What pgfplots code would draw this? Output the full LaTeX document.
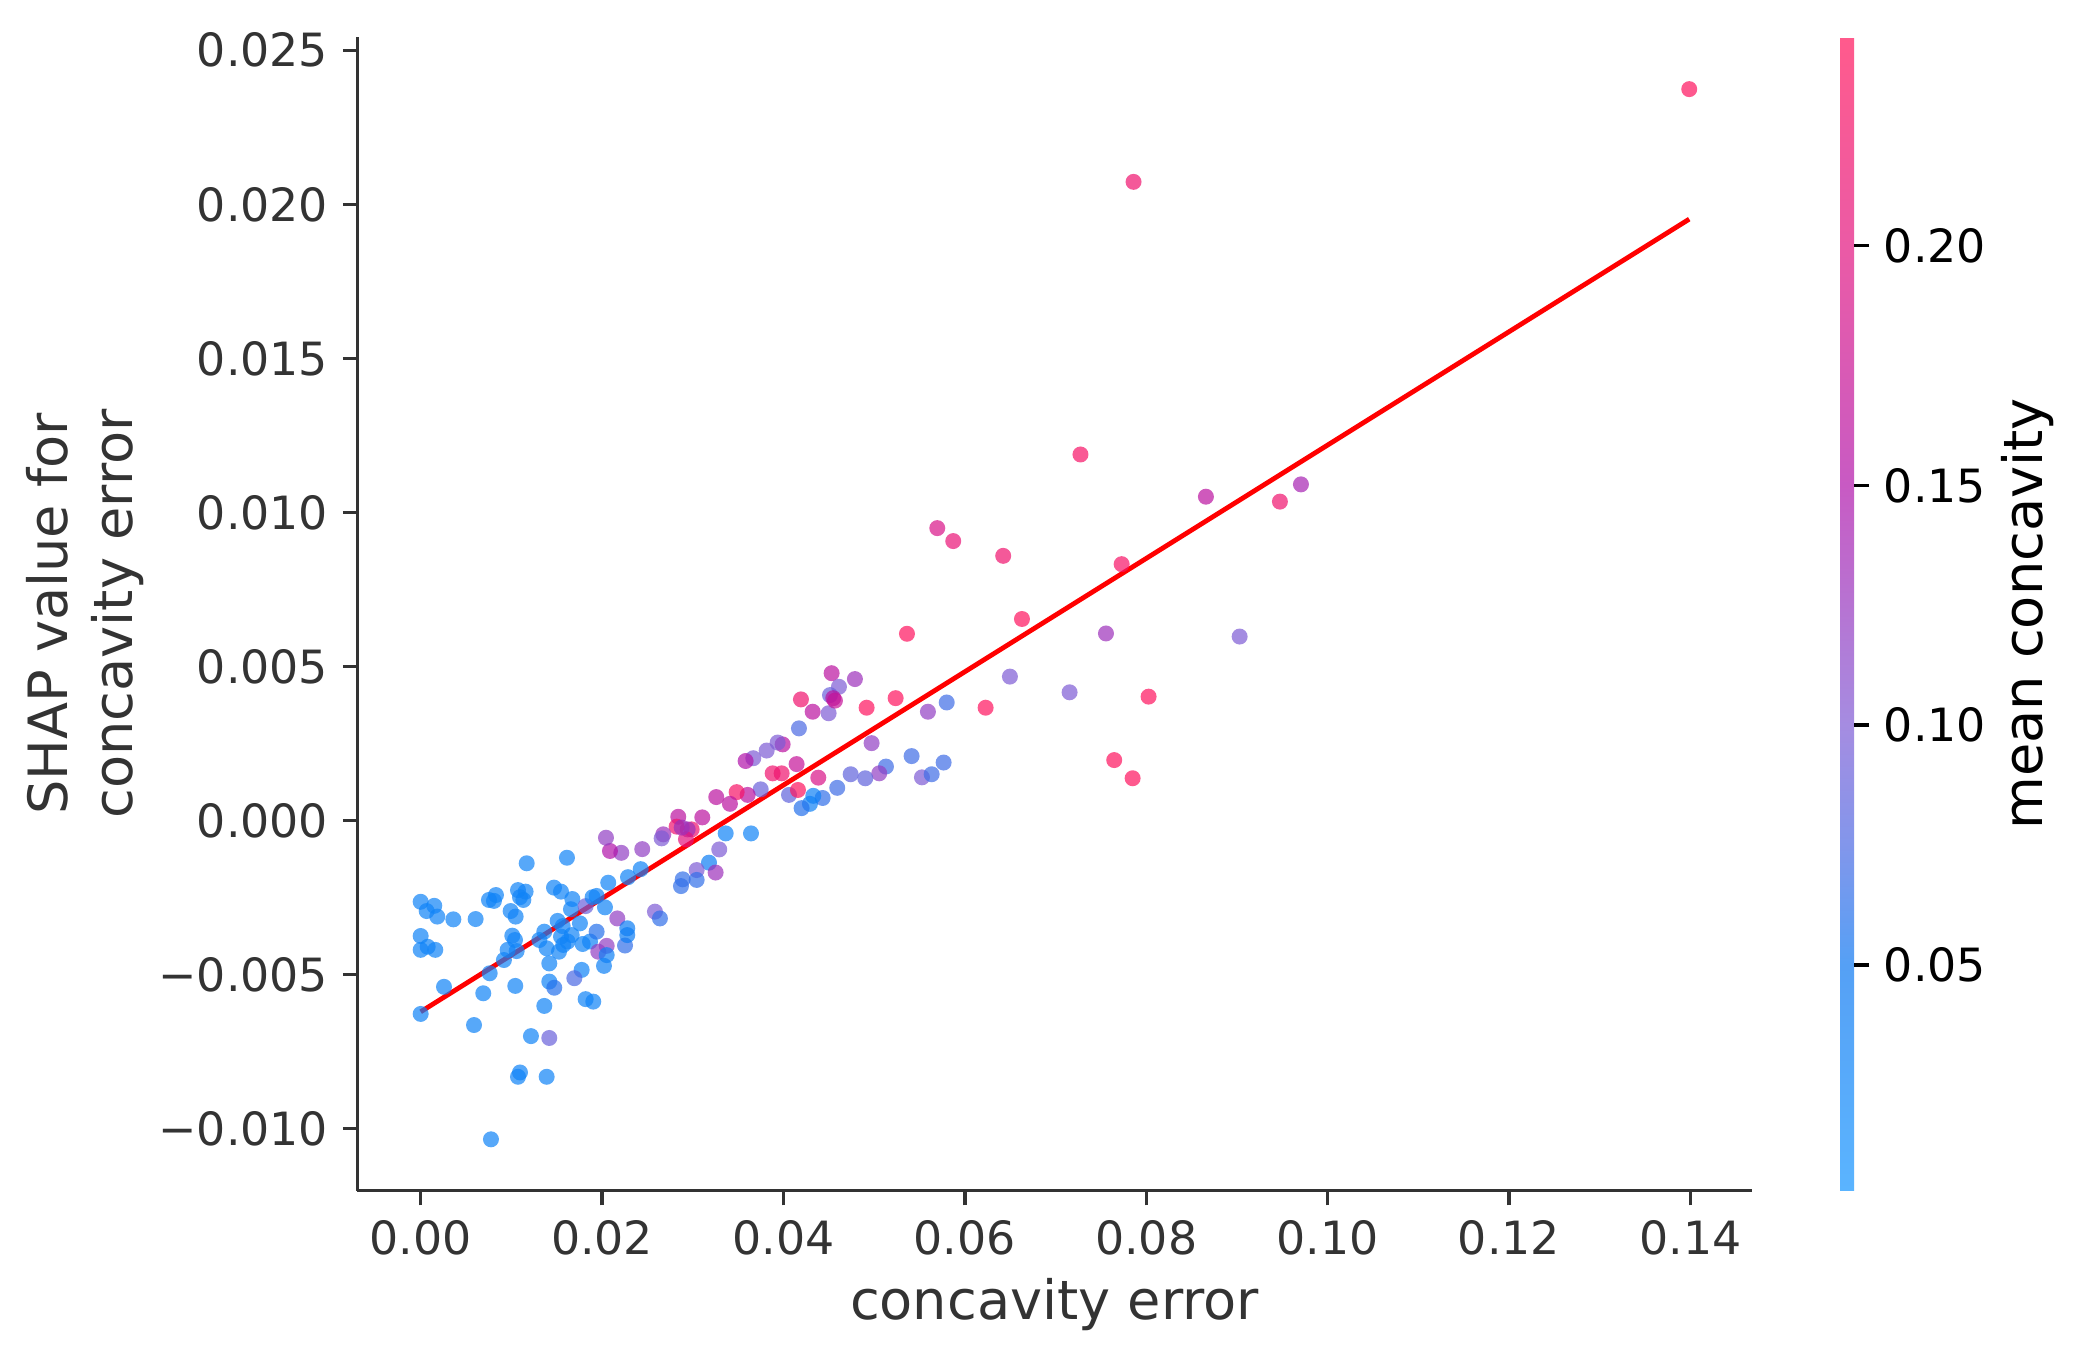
\documentclass[border=0pt]{standalone}
\usepackage{fontspec}
\setmainfont{DejaVu Sans}
\usepackage{pgfplots}
\usepackage{pgfplotstable}
\pgfplotsset{compat=1.18}
\definecolor{ax}{HTML}{333333}
\pgfplotsset{
  colormap={shapmap}{rgb255(0pt)=(19,147,255) rgb255(196pt)=(12,119,241) rgb255(300pt)=(76,105,226) rgb255(404pt)=(126,91,212) rgb255(612pt)=(176,19,169) rgb255(819pt)=(226,19,126) rgb255(1000pt)=(255,19,91)},
  colormap={shapbar}{rgb255(0pt)=(90,180,255) rgb255(196pt)=(85,160,245) rgb255(300pt)=(130,150,235) rgb255(404pt)=(165,140,225) rgb255(612pt)=(200,90,195) rgb255(819pt)=(235,90,165) rgb255(1000pt)=(255,90,140)},
}
\pgfplotstableread{
x y c
0.0000 -0.00264 0.03
0.00066 -0.00294 0.03
0.0015 -0.00277 0.03
0.00183 -0.00312 0.03
0.0036 -0.00321 0.03
0.00606 -0.00320 0.03
0.0000 -0.00375 0.03
0.00077 -0.0041 0.03
0.0000 -0.0042 0.03
0.00161 -0.0042 0.03
0.01169 -0.00139 0.03
0.01613 -0.00121 0.03
0.00753 -0.00258 0.03
0.0083 -0.00242 0.03
0.00808 -0.00261 0.03
0.01073 -0.00226 0.03
0.01157 -0.00231 0.03
0.01095 -0.00249 0.03
0.01132 -0.00258 0.03
0.00992 -0.00294 0.03
0.01047 -0.00312 0.03
0.0147 -0.00218 0.03
0.01547 -0.00231 0.03
0.01672 -0.00255 0.03
0.01657 -0.00288 0.03
0.01819 -0.00278 0.09
0.01896 -0.00249 0.03
0.0194 -0.00245 0.03
0.0151 -0.00326 0.03
0.01566 -0.00343 0.03
0.01756 -0.00334 0.03
0.01363 -0.00361 0.03
0.01308 -0.00388 0.03
0.0101 -0.00374 0.03
0.0104 -0.00388 0.03
0.00959 -0.0042 0.03
0.01058 -0.00424 0.03
0.00918 -0.00453 0.03
0.00761 -0.00496 0.03
0.01389 -0.00415 0.03
0.01418 -0.00464 0.03
0.01525 -0.00426 0.03
0.01572 -0.00404 0.03
0.01621 -0.00393 0.03
0.01547 -0.00377 0.03
0.01665 -0.00372 0.03
0.01786 -0.00401 0.03
0.01867 -0.00393 0.03
0.0194 -0.00361 0.06
0.02253 -0.00406 0.065
0.01958 -0.00426 0.12
0.02051 -0.00407 0.12
0.02051 -0.00437 0.035
0.02021 -0.00472 0.035
0.00257 -0.0054 0.03
0.0069 -0.00561 0.03
0.01043 -0.00537 0.03
0.01418 -0.00523 0.03
0.01473 -0.00543 0.06
0.01775 -0.00485 0.03
0.01694 -0.00512 0.075
0.01363 -0.00602 0.03
0.01819 -0.0058 0.03
0.01903 -0.00588 0.03
0.0000 -0.00628 0.03
0.00588 -0.00664 0.03
0.01216 -0.007 0.03
0.01418 -0.00706 0.09
0.01095 -0.00818 0.03
0.01073 -0.00832 0.03
0.01389 -0.00832 0.03
0.00775 -0.01035 0.03
0.05362 0.00606 0.24
0.0663 0.00654 0.24
0.06497 0.00467 0.10
0.07155 0.00416 0.10
0.06229 0.00366 0.24
0.058 0.00383 0.07
0.05593 0.00353 0.12
0.05237 0.00397 0.24
0.04917 0.00366 0.24
0.04972 0.00251 0.12
0.05413 0.00209 0.07
0.05766 0.00188 0.07
0.05527 0.0014 0.10
0.05634 0.0015 0.07
0.0513 0.00175 0.07
0.05056 0.00153 0.12
0.04902 0.00137 0.085
0.04741 0.0015 0.085
0.04593 0.00106 0.07
0.04432 0.00073 0.065
0.04329 0.0008 0.035
0.04292 0.00054 0.035
0.042 0.0004 0.06
0.04061 0.00083 0.085
0.0416 0.00099 0.24
0.04384 0.00139 0.19
0.04145 0.00183 0.17
0.0398 0.00153 0.22
0.03881 0.00153 0.22
0.03991 0.00247 0.16
0.03936 0.00253 0.10
0.03815 0.00227 0.10
0.03667 0.00202 0.10
0.03583 0.00193 0.15
0.03749 0.00101 0.09
0.03605 0.00083 0.16
0.03484 0.00092 0.23
0.0341 0.00054 0.16
0.03259 0.00076 0.16
0.03105 0.0001 0.16
0.02988 -0.00029 0.22
0.02944 -0.00029 0.13
0.0284 0.00012 0.16
0.02822 -0.0002 0.22
0.02925 -0.00061 0.20
0.02878 -0.00023 0.13
0.02675 -0.00045 0.13
0.02657 -0.00058 0.10
0.02443 -0.00093 0.12
0.02212 -0.00105 0.12
0.02087 -0.00099 0.15
0.02043 -0.00056 0.12
0.03363 -0.00042 0.03
0.03642 -0.00042 0.03
0.03292 -0.00094 0.10
0.03179 -0.00137 0.04
0.03252 -0.00169 0.13
0.03043 -0.00161 0.10
0.03043 -0.00193 0.065
0.02889 -0.00191 0.065
0.0287 -0.00213 0.065
0.02426 -0.00158 0.03
0.02286 -0.00184 0.03
0.02068 -0.00202 0.03
0.02032 -0.00282 0.03
0.02168 -0.00318 0.12
0.02583 -0.00296 0.10
0.02638 -0.00318 0.065
0.02278 -0.0035 0.04
0.02278 -0.00372 0.04
0.04171 0.00299 0.075
0.04193 0.00393 0.22
0.04322 0.00353 0.16
0.04498 0.00348 0.10
0.04531 0.00478 0.16
0.04612 0.00434 0.10
0.04513 0.00407 0.09
0.04549 0.00397 0.16
0.04568 0.00389 0.17
0.04788 0.00459 0.13
0.05696 0.00949 0.19
0.05872 0.00907 0.21
0.06423 0.00859 0.22
0.07729 0.00832 0.23
0.08658 0.01051 0.16
0.09474 0.01035 0.22
0.09706 0.01091 0.14
0.07556 0.00607 0.13
0.0903 0.00597 0.10
0.08026 0.00402 0.24
0.07647 0.00196 0.24
0.0785 0.00137 0.24
0.0786 0.02073 0.22
0.07275 0.01188 0.23
0.13987 0.02374 0.24
}\pts
\begin{document}
\begin{tikzpicture}
\begin{axis}[
  at={(0,0)}, anchor=south west,
  scale only axis, width=334.6pt, height=276.9pt,
  xmin=-0.00697, xmax=0.14674, ymin=-0.01202, ymax=0.02543,
  scaled ticks=false,
  axis x line*=bottom, axis y line*=left,
  axis line style={ax, line width=0.8pt, -},
  tick align=outside, major tick length=3.5pt,
  tick style={ax, line width=0.8pt},
  xtick={0,0.02,0.04,0.06,0.08,0.10,0.12,0.14},
  xticklabels={0.00,0.02,0.04,0.06,0.08,0.10,0.12,0.14},
  ytick={-0.010,-0.005,0,0.005,0.010,0.015,0.020,0.025},
  yticklabels={−0.010,−0.005,0.000,0.005,0.010,0.015,0.020,0.025},
  ticklabel style={font=\fontsize{11}{13}\selectfont, text=ax},
  xlabel={concavity error},
  xlabel style={at={(axis description cs:0.5,-0.112)}, anchor=base, font=\fontsize{13}{15.6}\selectfont, text=ax},
  ylabel={SHAP value for\\concavity error},
  ylabel style={at={(axis description cs:-0.1955,0.5)}, anchor=center, rotate=0, align=center, font=\fontsize{13}{15.6}\selectfont, text=ax},
  colormap name=shapmap,
  point meta min=0.0029, point meta max=0.2435,
  colorbar,
  colorbar style={
    at={(parent axis.south east)}, anchor=south west, xshift=12.7pt,
    width=3.4pt,
    scaled ticks=false,
    colormap name=shapbar,
    axis line style={draw=none},
    ytick={0.05,0.1,0.15,0.2},
    yticklabels={0.05,0.10,0.15,0.20},
    yticklabel style={font=\fontsize{11}{13}\selectfont, text=black},
    ytick style={draw=black, line width=0.8pt},
    major tick length=3.6pt,
    tick align=outside,
    ytick pos=right, yticklabel pos=right,
    ylabel={mean concavity},
    ylabel style={at={(axis description cs:14.3,0.5)}, anchor=base, rotate=0, font=\fontsize{13}{15.6}\selectfont, text=black},
  },
]
\addplot[scatter, only marks, mark=*, mark size=1.92pt, point meta=explicit,
  scatter/use mapped color={draw=mapped color, fill=mapped color},
  mark options={draw opacity=0, fill opacity=0.7}] table[x=x, y=y, meta=c] {\pts};
\addplot[red, line width=1.15pt, no marks] coordinates {(0,-0.00621) (0.13987,0.01952)};
\end{axis}
\pgfresetboundingbox
\path[use as bounding box] (-85.8pt,-41.8pt) rectangle (414.4pt,285.8pt);
\end{tikzpicture}
\end{document}
